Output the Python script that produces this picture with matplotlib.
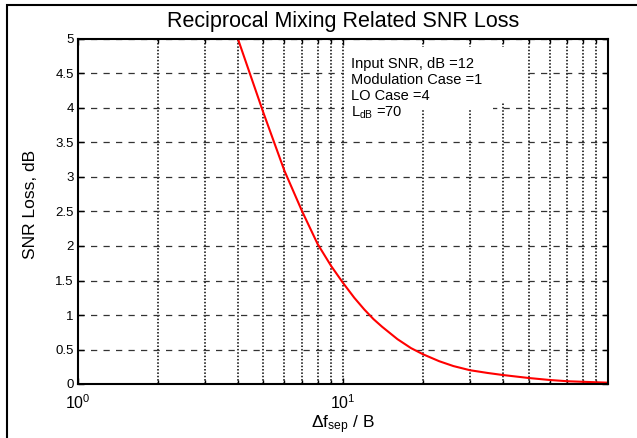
import matplotlib
matplotlib.use("Agg")
import matplotlib.pyplot as plt
from matplotlib.patches import Rectangle
from matplotlib.ticker import FixedLocator, NullFormatter, LogFormatterSciNotation

plt.rcParams['font.family'] = ['Liberation Sans', 'DejaVu Sans']
plt.rcParams['mathtext.fontset'] = 'custom'
plt.rcParams['mathtext.rm'] = 'Liberation Sans'
plt.rcParams['mathtext.it'] = 'Liberation Sans:italic'
plt.rcParams['mathtext.bf'] = 'Liberation Sans:bold'

# Frequency separation normalised to bandwidth, and resulting SNR loss (dB)
freq_ratio = [4, 5, 6, 7, 8, 9, 10, 11, 12, 13, 14, 16, 18, 20, 23, 26, 30,
              35, 40, 50, 60, 70, 80, 90, 98]
snr_loss_db = [5.01, 3.93, 3.09, 2.50, 2.03, 1.71, 1.46, 1.25, 1.08, 0.94,
               0.83, 0.65, 0.52, 0.43, 0.33, 0.26, 0.20, 0.16, 0.13, 0.087,
               0.058, 0.040, 0.032, 0.025, 0.020]

y_ticks = [0, 0.5, 1, 1.5, 2, 2.5, 3, 3.5, 4, 4.5, 5]
y_tick_labels = ['0', '0.5', '1', '1.5', '2', '2.5', '3', '3.5', '4', '4.5', '5']
x_major = [1, 10]
x_minor = [2, 3, 4, 5, 6, 7, 8, 9, 20, 30, 40, 50, 60, 70, 80, 90]

info_lines = ['Input SNR, dB =12', 'Modulation Case =1', 'LO Case =4',
              r'L$_{\mathrm{dB}}$ =70']

W, H = 637, 438
fig = plt.figure(figsize=(W / 100, H / 100), dpi=100)
fig.patch.set_facecolor('white')

# outer window frame
fig.add_artist(Rectangle((7 / W, -0.1), 1.2, 1 - 5 / H + 0.1,
                         transform=fig.transFigure, fill=False,
                         edgecolor='black', linewidth=1.5))

left, right, top, bottom = 78, 608, 39, 384
ax = fig.add_axes([left / W, 1 - bottom / H, (right - left) / W, (bottom - top) / H])

ax.plot(freq_ratio, snr_loss_db, color='#ff0000', linewidth=1.5, zorder=4,
        clip_on=True)

ax.set_xscale('log')
ax.set_xlim(1, 99.5)
ax.set_ylim(0, 5)

ax.xaxis.set_major_locator(FixedLocator(x_major))
ax.xaxis.set_minor_locator(FixedLocator(x_minor))
ax.xaxis.set_major_formatter(LogFormatterSciNotation())
ax.xaxis.set_minor_formatter(NullFormatter())
ax.set_yticks(y_ticks)
ax.set_yticklabels(y_tick_labels)

ax.tick_params(which='both', direction='in', top=True, right=True,
               labelsize=9.5, width=1.0, color='black')
ax.tick_params(which='major', length=4)
ax.tick_params(which='minor', length=3)
ax.tick_params(axis='x', which='major', pad=7, labelsize=11.5)
ax.tick_params(axis='y', which='major', pad=3)

for sp in ax.spines.values():
    sp.set_linewidth(1.5)
    sp.set_zorder(5)

ax.grid(True, which='both', axis='x', linestyle=(0, (1, 1.2)), color='black',
        linewidth=1.1)
ax.grid(True, which='major', axis='y', linestyle=(0, (5, 5)), color='#333333',
        linewidth=0.9)
ax.set_axisbelow(True)

# white backing behind the parameter annotation
ax_w, ax_h = right - left, bottom - top
def frac_rect(x0, y0, x1, y1):
    return Rectangle(((x0 - left) / ax_w, 1 - (y1 - top) / ax_h),
                     (x1 - x0) / ax_w, (y1 - y0) / ax_h,
                     transform=ax.transAxes, facecolor='white',
                     edgecolor='none', zorder=2.5)
ax.add_patch(frac_rect(344, 47, 528, 102))
ax.add_patch(frac_rect(344, 100, 493, 110))

ax.text((351 - left) / ax_w, 1 - (57 - top) / ax_h, '\n'.join(info_lines),
        transform=ax.transAxes, ha='left', va='top', fontsize=10.5,
        linespacing=1.17, zorder=3)

ax.set_title('Reciprocal Mixing Related SNR Loss', fontsize=15.5, pad=8.5)
ax.set_ylabel('SNR Loss, dB', fontsize=12.5)
ax.yaxis.set_label_coords(-0.075, 0.52)
ax.set_xlabel('Δf$_{\\mathrm{sep}}$ / B', fontsize=12.5)
ax.xaxis.set_label_coords(0.5, -0.085)

fig.savefig('out.png', dpi=100, facecolor='white')
